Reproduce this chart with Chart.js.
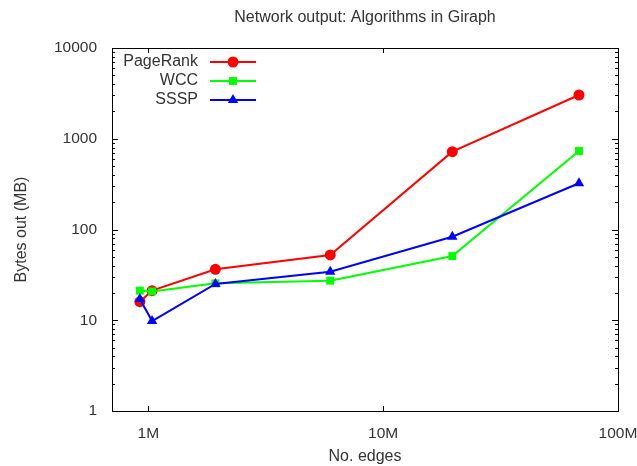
<!DOCTYPE html>
<html>
<head>
<meta charset="utf-8">
<script src="https://cdn.jsdelivr.net/npm/chart.js@4/dist/chart.umd.min.js"></script>
<style>
html,body{margin:0;padding:0;background:#fff;}
#wrap{width:637px;height:466px;position:relative;}
</style>
</head>
<body>
<div id="wrap"><canvas id="c" width="637" height="466"></canvas></div>
<script>
// ---- data ----
const edges = [0.92e6, 1.037e6, 1.93e6, 5.95e6, 19.7e6, 68.2e6];
const pageRank = [16.0, 21.2, 36.4, 52.4, 720, 3035];
const wcc = [21.2, 20.8, 25.5, 27.3, 51, 733];
const sssp = [17.1, 9.8, 25.1, 34.3, 83.3, 323];
const seriesNames = ['PageRank', 'WCC', 'SSSP'];
const xTickValues = [1e6, 1e7, 1e8];
const xTickLabels = ['1M', '10M', '100M'];
const yTickValues = [1, 10, 100, 1000, 10000];
const yTickLabels = ['1', '10', '100', '1000', '10000'];
const titleText = 'Network output: Algorithms in Giraph';

const FONT = 'Liberation Sans, Arial, sans-serif';
const TXT = '#333333';

function pts(ys){ return edges.map((x,i)=>({x:x, y:ys[i]})); }

const legendPlugin = {
  id:'gpLegend',
  afterDraw(chart){
    const ctx = chart.ctx, a = chart.chartArea;
    const rows = [62, 81, 100];
    ctx.save();
    // title centred over the plot area
    ctx.font = '16px ' + FONT;
    ctx.fillStyle = TXT;
    ctx.textAlign = 'center';
    ctx.textBaseline = 'middle';
    ctx.fillText(titleText, (a.left + a.right) / 2, 18);
    ctx.textAlign = 'right';
    chart.data.datasets.forEach((ds,i)=>{
      const y = rows[i];
      ctx.fillStyle = TXT;
      ctx.fillText(ds.label, 198, y);
      ctx.strokeStyle = ds.borderColor;
      ctx.lineWidth = ds.borderWidth;
      ctx.beginPath(); ctx.moveTo(210,y); ctx.lineTo(256,y); ctx.stroke();
      ctx.fillStyle = ds.pointBackgroundColor;
      ctx.strokeStyle = ds.pointBorderColor;
      Chart.helpers.drawPoint(ctx, {pointStyle: ds.pointStyle, radius: ds.pointRadius, borderWidth: 0, rotation: 0}, 233, y);
    });
    ctx.restore();
  }
};

const frameTicks = {
  id:'gpFrame',
  beforeDatasetsDraw(chart){
    const ctx = chart.ctx, a = chart.chartArea;
    const xs = chart.scales.x, ys = chart.scales.y;
    ctx.save();
    ctx.strokeStyle = '#000';
    ctx.lineWidth = 1;
    ctx.beginPath();
    for (let n = 0; n <= 4; n++) {
      for (let k = 1; k <= 9; k++) {
        const v = k * Math.pow(10, n);
        if (v > 10000) break;
        const py = Math.round(ys.getPixelForValue(v)) + 0.5;
        const len = (k === 1) ? 6 : 3;
        ctx.moveTo(a.left, py); ctx.lineTo(a.left + len, py);
        ctx.moveTo(a.right, py); ctx.lineTo(a.right - len, py);
      }
    }
    xTickValues.forEach(v=>{
      const px = Math.round(xs.getPixelForValue(v)) + 0.5;
      ctx.moveTo(px, a.bottom); ctx.lineTo(px, a.bottom - 5);
      ctx.moveTo(px, a.top); ctx.lineTo(px, a.top + 5);
    });
    ctx.stroke();
    ctx.strokeRect(Math.round(a.left)+0.5, Math.round(a.top)+0.5, Math.round(a.right-a.left), Math.round(a.bottom-a.top));
    ctx.restore();
  }
};

function mk(label, data, color, style, radius, order){
  return {label, data: pts(data), borderColor: color, backgroundColor: color,
    pointBackgroundColor: color, pointBorderColor: color, pointBorderWidth: 0,
    pointStyle: style, pointRadius: radius, borderWidth: 2, showLine: true,
    fill: false, tension: 0, order: order};
}

new Chart(document.getElementById('c'), {
  type: 'scatter',
  data: {
    datasets: [
      mk(seriesNames[0], pageRank, '#ff0000', 'circle', 5.5, 2),
      mk(seriesNames[1], wcc, '#00ff00', 'rect', 5.6, 1),
      mk(seriesNames[2], sssp, '#0000ff', 'triangle', 6, 0)
    ]
  },
  options: {
    responsive: false,
    animation: false,
    layout: {padding: {left: 0, right: 0, top: 48, bottom: 0}},
    plugins: {
      legend: {display: false},
      tooltip: {enabled: false},
      title: {display: false}
    },
    scales: {
      x: {
        type: 'logarithmic', min: 7e5, max: 1e8,
        grid: {display: false, drawTicks: false},
        border: {display: false},
        afterBuildTicks: s => { s.ticks = xTickValues.map(v=>({value: v})); },
        afterFit: s => { s.height = 55; s.paddingLeft = 0; s.paddingRight = 19; },
        ticks: {color: TXT, font: {family: FONT, size: 15.5}, padding: 13,
          maxRotation: 0, autoSkip: false,
          callback: (v) => { const i = xTickValues.indexOf(v); return i >= 0 ? xTickLabels[i] : ''; }},
        title: {display: true, text: 'No. edges', color: TXT,
          font: {family: FONT, size: 16, lineHeight: 1}, padding: {top: 0, bottom: 1}}
      },
      y: {
        type: 'logarithmic', min: 1, max: 10000,
        grid: {display: false, drawTicks: false},
        border: {display: false},
        afterBuildTicks: s => { s.ticks = yTickValues.map(v=>({value: v})); },
        afterFit: s => { s.width = 112; s.paddingTop = 0; s.paddingBottom = 0; },
        ticks: {color: TXT, font: {family: FONT, size: 15.5}, padding: 15, autoSkip: false,
          callback: (v) => { const i = yTickValues.indexOf(v); return i >= 0 ? yTickLabels[i] : ''; }},
        title: {display: true, text: 'Bytes out (MB)', color: TXT,
          font: {family: FONT, size: 16, lineHeight: 1}, padding: {top: 14, bottom: 0}}
      }
    }
  },
  plugins: [frameTicks, legendPlugin]
});
</script>
</body>
</html>
